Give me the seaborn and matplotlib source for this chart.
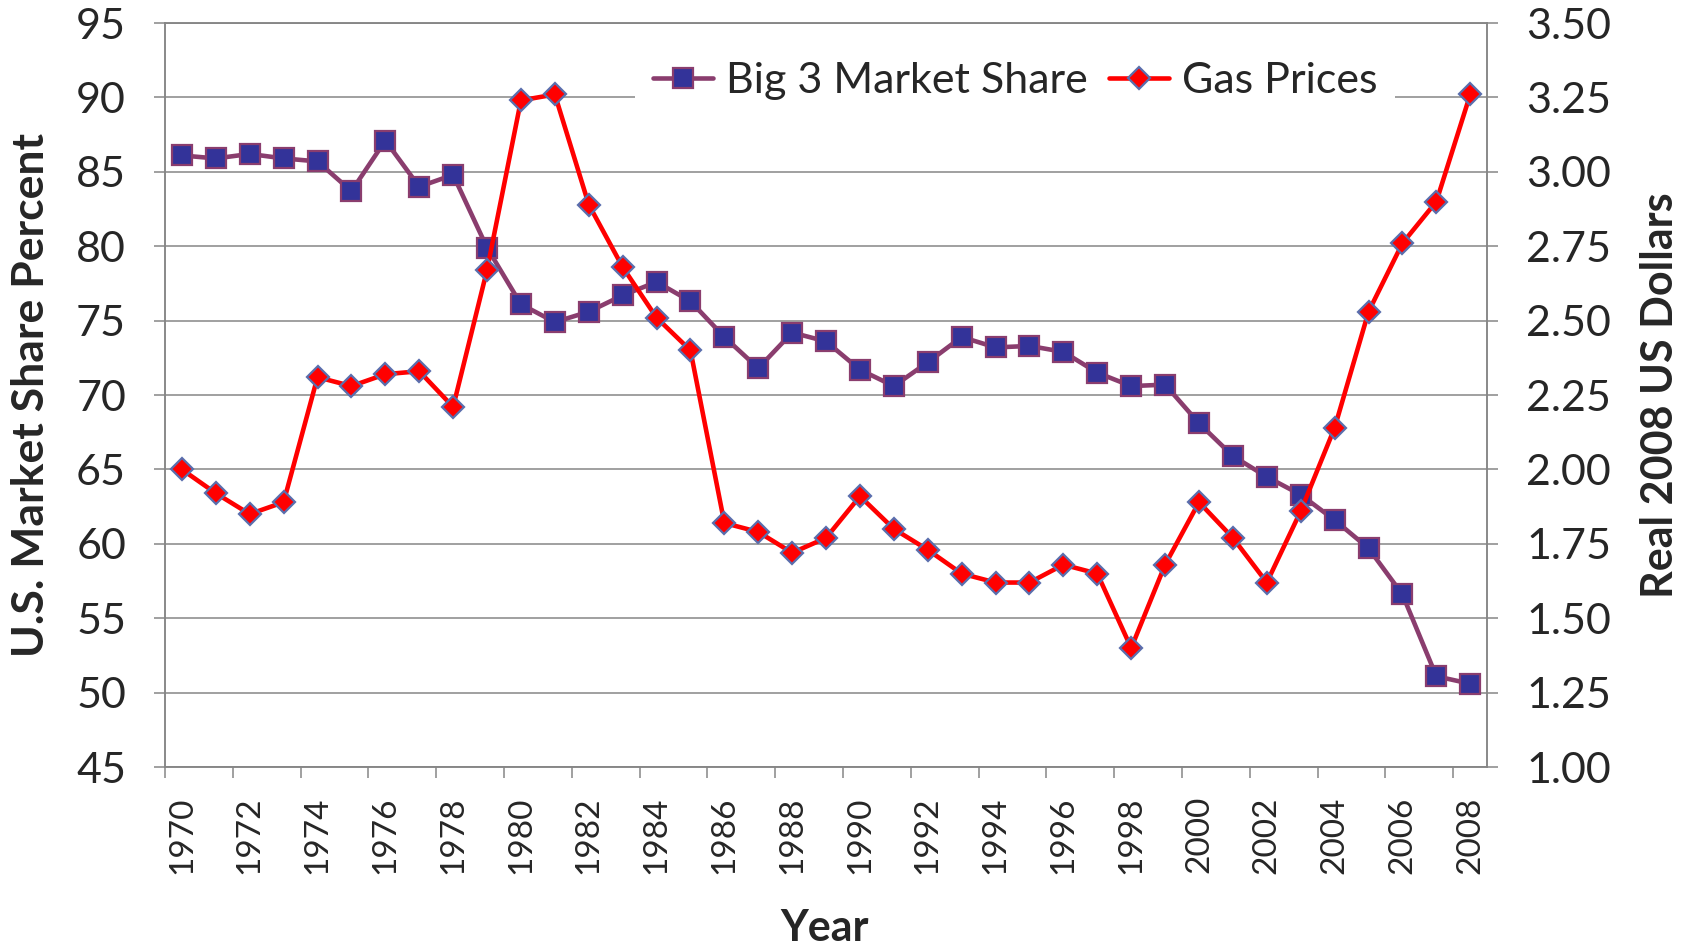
import numpy as np
import matplotlib.pyplot as plt
import seaborn as sns
from matplotlib.ticker import FixedLocator, NullFormatter, FormatStrFormatter

years = list(range(1970, 2009))
# Big 3 share of the US car market, percent (left axis)
market_share = [86.1, 85.9, 86.2, 85.9, 85.7, 83.7, 87.1, 84.0, 84.8, 79.9,
                76.1, 74.9, 75.6, 76.7, 77.6, 76.3, 73.9, 71.8, 74.2, 73.6,
                71.7, 70.6, 72.2, 73.9, 73.2, 73.3, 72.9, 71.5, 70.6, 70.7,
                68.1, 65.9, 64.5, 63.3, 61.6, 59.7, 56.6, 51.1, 50.6]
# gas price in real 2008 dollars (right axis)
gas_prices = [2.00, 1.92, 1.85, 1.89, 2.31, 2.28, 2.32, 2.33, 2.21, 2.67,
              3.24, 3.26, 2.89, 2.68, 2.51, 2.40, 1.82, 1.79, 1.72, 1.77,
              1.91, 1.80, 1.73, 1.65, 1.62, 1.62, 1.68, 1.65, 1.40, 1.68,
              1.89, 1.77, 1.62, 1.86, 2.14, 2.53, 2.76, 2.90, 3.26]

sns.set_theme(style="white")
plt.rcParams['font.family'] = ['Lato', 'DejaVu Sans']

grid_col = '#868686'
purple = '#8A3D6E'
navy = '#333399'
red = '#FF0000'

fig = plt.figure(figsize=(16.9, 9.47), dpi=100)
ax = fig.add_axes([0.0976, 0.19, 0.7824, 0.7857])
ax2 = ax.twinx()

sns.lineplot(x=years, y=market_share, ax=ax, color=purple, linewidth=3.3,
             marker='s', markersize=14, markerfacecolor=navy,
             markeredgecolor=purple, markeredgewidth=1.6,
             label='Big 3 Market Share')
sns.lineplot(x=years, y=gas_prices, ax=ax2, color=red, linewidth=3.3,
             marker='D', markersize=11.5, markerfacecolor=red,
             markeredgecolor='#5A6EAD', markeredgewidth=1.6,
             label='Gas Prices')
for a in (ax, ax2):
    if a.get_legend() is not None:
        a.get_legend().remove()

ax.set_xlim(1969.5, 2008.5)
ax.set_ylim(45, 95)
ax2.set_ylim(1.0, 3.5)

# x axis: tick marks between categories, labels every other year
ax.xaxis.set_major_locator(FixedLocator(np.arange(1969.5, 2008, 2)))
ax.xaxis.set_major_formatter(NullFormatter())
ax.set_xticks(years[::2], minor=True)
ax.set_xticklabels([str(y) for y in years[::2]], minor=True, rotation=90)
ax.tick_params(axis='x', which='major', direction='out', length=8,
               width=1.1, color=grid_col, bottom=True)
ax.tick_params(axis='x', which='minor', length=0, pad=21, labelsize=24)

ax.set_yticks(np.arange(45, 96, 5))
ax2.set_yticks(np.arange(1.0, 3.51, 0.25))
ax2.yaxis.set_major_formatter(FormatStrFormatter('%.2f'))
ax.tick_params(axis='y', direction='out', length=8, width=1.1,
               color=grid_col, pad=20, labelsize=31, left=True)
ax2.tick_params(axis='y', direction='out', length=8, width=1.1,
                color=grid_col, pad=20, labelsize=31, right=True)

ax.yaxis.grid(True, color=grid_col, linewidth=1.1)
ax.xaxis.grid(False)
ax2.grid(False)

for a in (ax, ax2):
    for s in a.spines.values():
        s.set_color(grid_col)
        s.set_linewidth(1.1)

ax.set_xlabel('Year', fontsize=31, fontweight='bold')
ax.xaxis.set_label_coords(0.499, -0.19)
ax.set_ylabel('U.S. Market Share Percent', fontsize=32, fontweight='bold',
              va='center')
ax.yaxis.set_label_coords(-0.101, 0.5)
ax2.set_ylabel('Real 2008 US Dollars', fontsize=31, fontweight='bold',
               va='center', rotation=90)
ax2.yaxis.set_label_coords(1.131, 0.5)

h1, l1 = ax.get_legend_handles_labels()
h2, l2 = ax2.get_legend_handles_labels()
leg = ax2.legend(h1 + h2, l1 + l2, loc='upper center',
                 bbox_to_anchor=(0.643, 1.0), ncol=2, fontsize=31,
                 frameon=True, facecolor='white', edgecolor='none',
                 framealpha=1, fancybox=False, handlelength=1.4,
                 handletextpad=0.3, columnspacing=0.5, borderpad=0.4)

fig.savefig('out.png', dpi=100)
